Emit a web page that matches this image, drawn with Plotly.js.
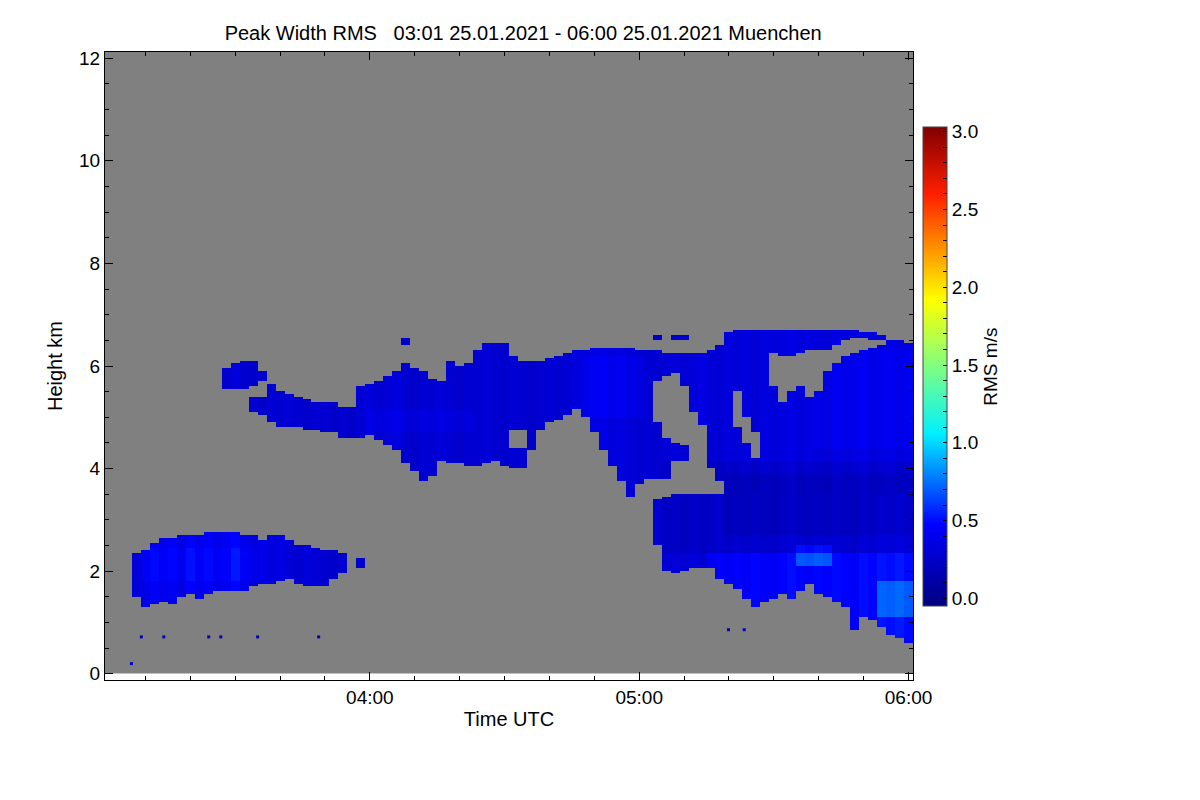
<!DOCTYPE html>
<html>
<head>
<meta charset="utf-8">
<script src="https://cdn.plot.ly/plotly-3.0.1.min.js"></script>
<style>
  html, body { margin: 0; padding: 0; background: #fff; }
  #chart { width: 1200px; height: 800px; }
</style>
</head>
<body>
<div id="chart"></div>
<script>
// grid: two-minute columns (minutes after 03:00), 50 m range gates
const colMinutes = [];
for (let m = 2; m <= 180; m += 2) colMinutes.push(m);
const rowHeights = [];
for (let j = 0; j < 243; j++) rowHeights.push(+(0.025 + 0.05 * j).toFixed(3));

// low cloud 03:08 - 03:58 (km / m/s per column)
const lowStart = 8;
const lowBottom = [1.48,1.30,1.35,1.40,1.33,1.50,1.55,1.46,1.55,1.60,1.58,1.58,1.62,1.72,1.75,1.75,1.78,1.85,1.75,1.70,1.72,1.72,1.85,1.95,null,2.07];
const lowTop    = [2.36,2.42,2.55,2.65,2.65,2.68,2.71,2.71,2.75,2.77,2.73,2.73,2.72,2.70,2.62,2.70,2.68,2.60,2.52,2.50,2.45,2.42,2.40,2.36,null,2.24];
const lowValue  = [0.32,0.38,0.44,0.40,0.43,0.36,0.46,0.40,0.44,0.38,0.42,0.48,0.39,0.34,0.38,0.33,0.36,0.31,0.28,0.33,0.30,0.28,0.26,0.28,null,0.28];

// small patch near 6 km, 03:28 - 03:36
const blobStart = 28;
const blobBottom = [5.57,5.55,5.55,5.60,5.72];
const blobTop    = [5.96,6.05,6.08,6.08,5.90];
const blobValue  = [0.28,0.32,0.28,0.26,0.28];

// main upper cloud 03:34 - 06:00
const mainStart = 34;
const mainBottom = [5.10,5.05,4.92,4.82,4.80,4.78,4.75,4.75,4.72,4.72,4.62,4.58,
  4.62,4.65,4.55,4.45,4.35,4.10,3.95,3.75,3.84,4.15,4.12,4.08,4.05,4.05,4.10,4.15,4.05,4.00,4.00,4.35,4.75,4.90,
  4.95,5.05,5.15,5.00,4.70,4.35,4.05,3.75,3.45,3.70,3.80,3.80,3.78,4.17,4.17,5.10,4.85,4.00,3.75,3.50,
  3.50,3.50,3.50,3.50,3.50,3.50,3.50,3.50,3.50,3.50,3.50,3.50,3.50,3.50,3.50,3.50,3.50,3.50,3.50,3.50];
const mainTop = [5.38,5.40,5.63,5.52,5.45,5.40,5.35,5.30,5.30,5.28,5.22,5.18,
  5.60,5.67,5.72,5.80,5.90,6.05,5.95,5.90,5.75,5.72,6.10,6.00,6.06,6.30,6.45,6.45,6.45,6.20,6.12,6.12,6.12,6.15,
  6.18,6.25,6.28,6.32,6.35,6.35,6.35,6.35,6.33,6.32,6.30,6.28,6.27,6.27,6.27,6.27,6.27,6.30,6.40,6.65,
  6.68,6.70,6.70,6.70,6.70,6.70,6.70,6.70,6.70,6.70,6.72,6.72,6.70,6.70,6.65,6.65,6.60,6.50,6.48,6.45];
const mainValue = [0.28,0.26,0.30,0.28,0.31,0.28,0.26,0.30,0.28,0.25,0.28,0.26,
  0.30,0.33,0.28,0.31,0.34,0.28,0.26,0.30,0.28,0.32,0.28,0.26,0.29,0.28,0.31,0.28,0.27,0.30,0.28,0.26,0.28,0.30,
  0.28,0.30,0.33,0.31,0.35,0.37,0.33,0.35,0.31,0.28,0.30,0.28,0.31,0.33,0.30,0.32,0.35,0.31,0.29,0.33,
  0.31,0.34,0.30,0.35,0.32,0.34,0.37,0.32,0.35,0.33,0.31,0.37,0.33,0.35,0.38,0.33,0.35,0.37,0.33,0.36];

// gaps inside the main cloud
const holeMinutes = [92,94,124,126,128,130,142,144,146,150,152,154,156,158,160,162,164,166,168,170,172,174];
const holeBottom  = [4.40,4.40,4.90,4.60,4.50,4.43,4.80,4.50,4.20,5.60,5.30,5.50,5.60,5.40,5.50,5.90,6.05,6.20,6.25,6.30,6.35,6.40];
const holeTop     = [4.75,4.75,5.70,5.80,5.85,5.60,5.50,5.00,4.70,6.25,6.20,6.20,6.25,6.30,6.30,6.30,6.40,6.50,6.55,6.55,6.50,6.50];

// small specks above the cloud top
const speckMinutes = [68,124,128,130];
const speckBottom  = [6.40,6.50,6.50,6.50];
const speckTop     = [6.57,6.62,6.60,6.58];
const speckValue   = [0.25,0.25,0.25,0.25];

// lower cloud 05:04 - 06:00
const lowerStart = 124;
const lowerBottom = [2.48,2.00,1.93,2.00,2.05,2.03,2.03,1.85,1.75,1.64,1.45,1.32,1.38,1.45,1.55,
  1.45,1.58,1.75,1.55,1.50,1.40,1.30,0.85,1.10,1.05,0.90,0.75,0.68,0.58];
const lowerTop = [3.39,3.45,3.50,3.52,3.52,3.52,3.52,3.50,3.50,3.50,3.50,3.50,3.50,3.50,3.50,
  3.50,3.50,3.50,3.50,3.50,3.50,3.50,3.50,3.50,3.50,3.50,3.50,3.50,3.50];
const lowerValue = [0.28,0.30,0.31,0.29,0.33,0.30,0.31,0.34,0.32,0.35,0.33,0.36,0.33,0.32,0.35,
  0.38,0.35,0.33,0.36,0.34,0.37,0.35,0.33,0.38,0.36,0.40,0.38,0.41,0.37];

// darker / brighter areas: minutes from, to, km from, to, change in m/s
const patchFrom   = [126, 140, 135, 155, 174, 108, 60, 160, 10];
const patchTo     = [181, 181, 181, 162, 181, 120, 82, 181, 34];
const patchBottom = [2.35, 2.70, 0.50, 2.10, 1.10, 5.00, 4.70, 4.40, 1.80];
const patchTop    = [4.15, 3.90, 2.35, 2.50, 1.80, 6.20, 5.15, 6.30, 2.45];
const patchDelta  = [-0.07, -0.06, 0.12, 0.22, 0.20, 0.07, 0.05, 0.05, 0.05];

// isolated single gates
const dotMinutes = [6.9, 9.1, 14.1, 24.1, 26.8, 35.0, 48.6, 139.9, 143.4];
const dotHeights = [0.20, 0.72, 0.72, 0.72, 0.72, 0.72, 0.72, 0.86, 0.86];
const dotValues  = [0.20, 0.20, 0.20, 0.20, 0.20, 0.20, 0.20, 0.20, 0.20];

function pad(n) { return String(n).padStart(2, '0'); }
function stamp(m) {
  const s = Math.round(m * 60);
  return '2021-01-25 ' + pad(3 + Math.floor(s / 3600)) + ':' + pad(Math.floor((s % 3600) / 60)) + ':' + pad(s % 60);
}
function span(start, n) { return Array.from({length: n}, (_, k) => start + 2 * k); }

const z = rowHeights.map(() => colMinutes.map(() => null));
function fill(minutes, bottoms, tops, values) {
  minutes.forEach((m, k) => {
    if (bottoms[k] === null) return;
    const c = colMinutes.indexOf(m);
    rowHeights.forEach((h, j) => {
      if (h >= bottoms[k] && h <= tops[k]) z[j][c] = values[k];
    });
  });
}
fill(span(lowStart, lowBottom.length), lowBottom, lowTop, lowValue);
fill(span(blobStart, blobBottom.length), blobBottom, blobTop, blobValue);
fill(span(mainStart, mainBottom.length), mainBottom, mainTop, mainValue);
fill(speckMinutes, speckBottom, speckTop, speckValue);
fill(span(lowerStart, lowerBottom.length), lowerBottom, lowerTop, lowerValue);
holeMinutes.forEach((m, k) => {
  const c = colMinutes.indexOf(m);
  rowHeights.forEach((h, j) => { if (h >= holeBottom[k] && h <= holeTop[k]) z[j][c] = null; });
});
patchFrom.forEach((t0, k) => {
  colMinutes.forEach((m, c) => {
    if (m < t0 || m > patchTo[k]) return;
    rowHeights.forEach((h, j) => {
      if (z[j][c] !== null && h >= patchBottom[k] && h <= patchTop[k]) {
        z[j][c] = Math.max(0.03, z[j][c] + patchDelta[k]);
      }
    });
  });
});

const colTimes = colMinutes.map(stamp);
const rmsScale = [
  [0, 'rgb(0,0,128)'],
  [0.17, 'rgb(0,0,255)'],
  [0.36, 'rgb(0,240,255)'],
  [0.5, 'rgb(128,255,128)'],
  [0.64, 'rgb(255,255,0)'],
  [0.86, 'rgb(255,30,0)'],
  [1, 'rgb(128,0,0)']
];
const cbVals = [], cbText = [];
for (let k = 0; k <= 30; k++) {
  cbVals.push(k / 10);
  cbText.push(k % 5 === 0 ? (k / 10).toFixed(1) : '');
}

const background = {
  type: 'heatmap',
  x: colTimes,
  y: rowHeights,
  z: rowHeights.map(() => colMinutes.map(() => 0)),
  colorscale: [[0, '#808080'], [1, '#808080']],
  showscale: false,
  hoverinfo: 'skip'
};
const rms = {
  type: 'heatmap',
  x: colTimes,
  y: rowHeights,
  z: z,
  zmin: -0.05,
  zmax: 3.03,
  zsmooth: false,
  colorscale: rmsScale,
  colorbar: {
    x: 1.0124, xanchor: 'left', xpad: 0,
    y: 0.499, yanchor: 'middle', ypad: 0,
    len: 0.763, thickness: 24,
    outlinewidth: 1, outlinecolor: '#444',
    ticks: 'inside', ticklen: 4, tickcolor: '#000',
    tickvals: cbVals, ticktext: cbText,
    tickfont: {size: 19},
    title: {text: 'RMS m/s', side: 'right', font: {size: 19}}
  }
};
const dots = {
  type: 'scatter',
  mode: 'markers',
  x: dotMinutes.map(stamp),
  y: dotHeights,
  marker: {symbol: 'square', size: 3, color: dotValues, colorscale: rmsScale, cmin: -0.05, cmax: 3.03, line: {width: 0}},
  showlegend: false,
  hoverinfo: 'skip'
};

const layout = {
  width: 1200,
  height: 800,
  margin: {l: 105, r: 287, t: 52, b: 120},
  paper_bgcolor: '#fff',
  plot_bgcolor: '#fff',
  font: {family: 'Liberation Sans, Arial, sans-serif', size: 19, color: '#000'},
  showlegend: false,
  title: {
    text: 'Peak Width RMS\u00a0\u00a0\u00a003:01 25.01.2021 - 06:00 25.01.2021 Muenchen',
    xref: 'container', x: 0.436, xanchor: 'center',
    yref: 'container', y: 0.959, yanchor: 'middle',
    font: {size: 20}
  },
  xaxis: {
    type: 'date',
    range: ['2021-01-25 03:01', '2021-01-25 06:01'],
    tick0: '2021-01-25 04:00', dtick: 3600000, tickformat: '%H:%M',
    ticks: 'inside', ticklen: 8, tickcolor: '#000',
    minor: {dtick: 600000, ticks: 'inside', ticklen: 4, tickcolor: '#000'},
    showline: true, linecolor: '#000', linewidth: 1, mirror: 'ticks',
    showgrid: false, zeroline: false,
    tickfont: {size: 19},
    title: {text: 'Time UTC', standoff: 5, font: {size: 20}}
  },
  yaxis: {
    range: [-0.12, 12.12],
    tick0: 0, dtick: 2,
    ticks: 'inside', ticklen: 8, tickcolor: '#000',
    minor: {dtick: 0.5, ticks: 'inside', ticklen: 4, tickcolor: '#000'},
    showline: true, linecolor: '#000', linewidth: 1, mirror: 'ticks',
    showgrid: false, zeroline: false,
    tickfont: {size: 19},
    title: {text: 'Height km', standoff: 11, font: {size: 20}}
  }
};

Plotly.newPlot('chart', [background, rms, dots], layout, {displayModeBar: false, staticPlot: true});
</script>
</body>
</html>
